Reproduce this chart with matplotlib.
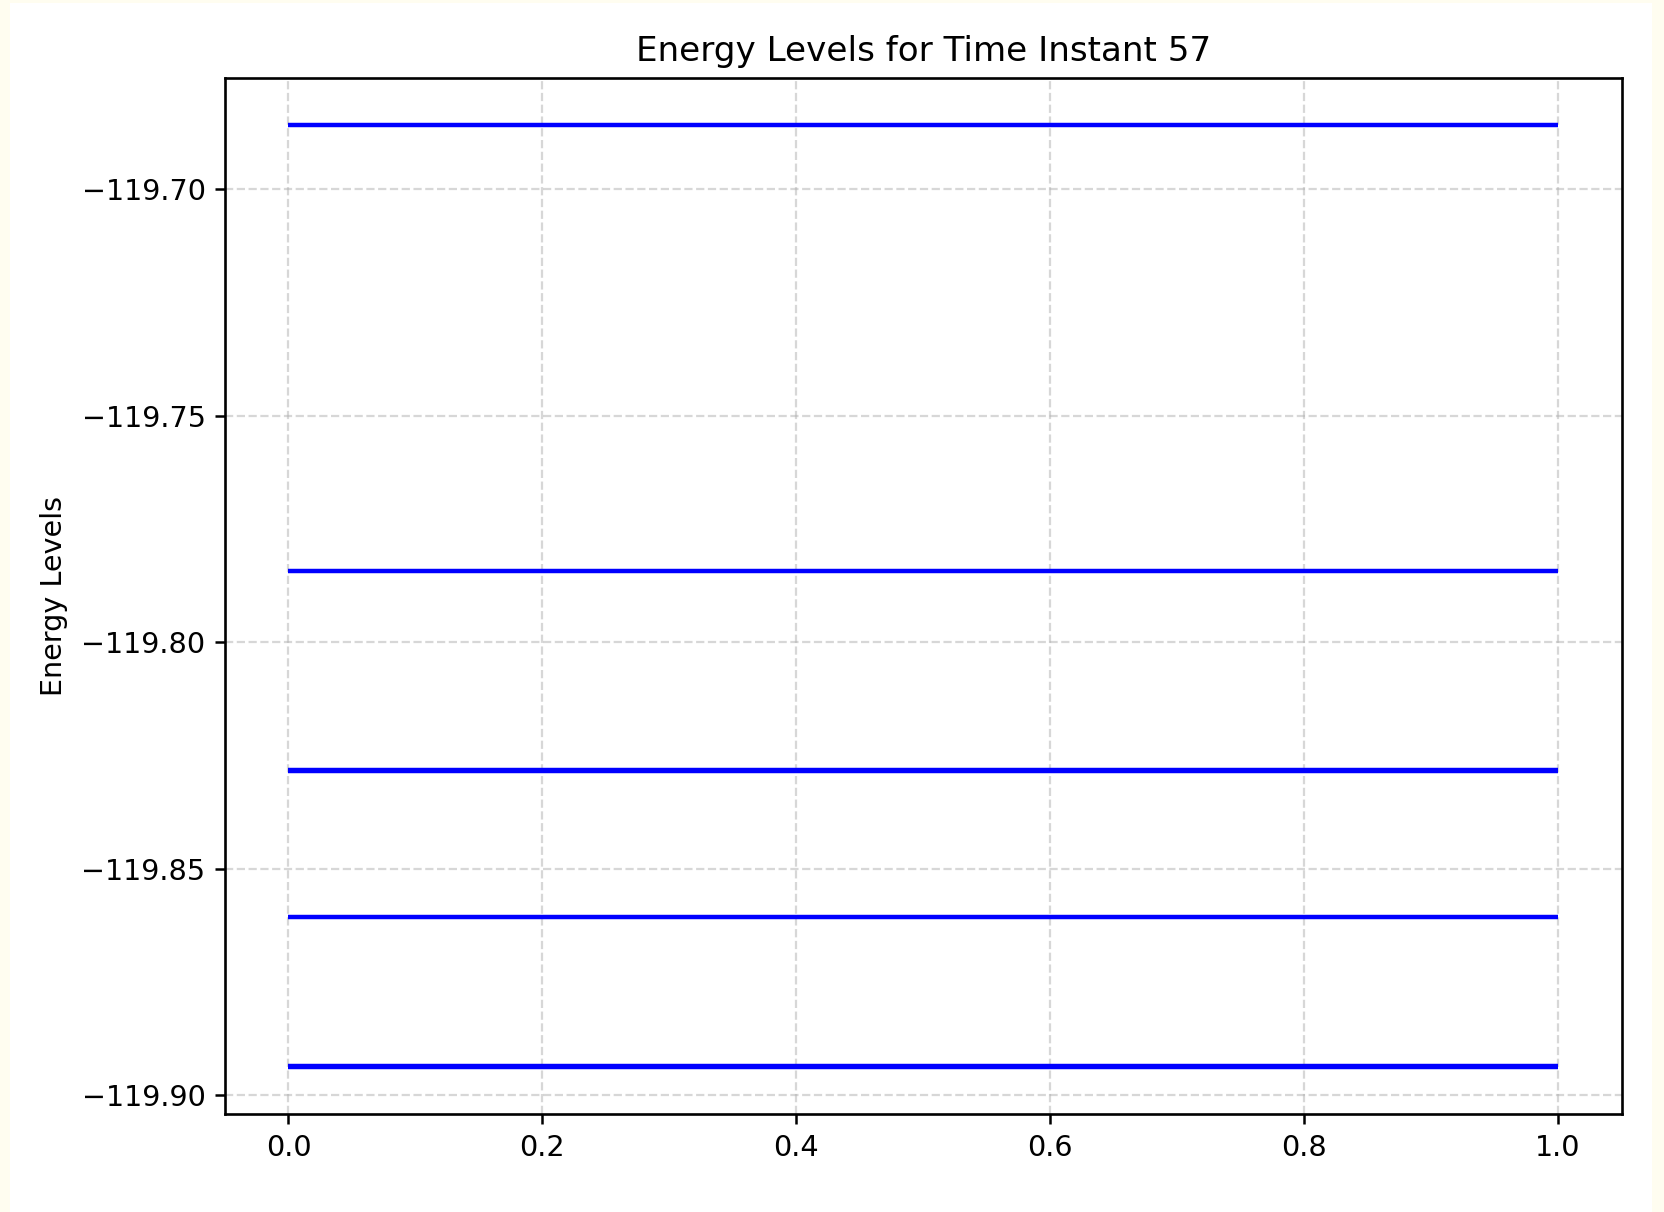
import matplotlib
matplotlib.use('Agg')
import matplotlib.pyplot as plt
from matplotlib.patches import Rectangle

# energy eigenvalues at the selected time step (near-degenerate pairs kept separate)
time_instant = 57
energy_levels = [-119.6858, -119.7843, -119.8283, -119.8285,
                 -119.8607, -119.8936, -119.8938]
x_span = [0.0, 1.0]

fig = plt.figure(figsize=(8.32, 6.06), dpi=200, facecolor='#fffdf0')
# white canvas inside the thin cream frame
fig.patches.append(Rectangle((0.006, 0.0), 0.9868, 0.9975, transform=fig.transFigure,
                             facecolor='white', edgecolor='none', zorder=-1))
ax = fig.add_axes([0.1352, 0.0806, 0.8393, 0.8554])

for level in energy_levels:
    ax.hlines(level, x_span[0], x_span[1], colors='blue', linewidth=1.6)

ax.set_title(f'Energy Levels for Time Instant {time_instant}', fontsize=12.3)
ax.set_ylabel('Energy Levels', fontsize=10.3, labelpad=5)
ax.tick_params(labelsize=10.3, width=0.9)
for spine in ax.spines.values():
    spine.set_linewidth(0.95)
ax.set_xticks([0.0, 0.2, 0.4, 0.6, 0.8, 1.0])
ax.set_yticks([-119.90, -119.85, -119.80, -119.75, -119.70])
ax.grid(True, linestyle='--', alpha=0.5)
ax.margins(x=0.05, y=0.05)

fig.savefig('out.png', dpi=200, facecolor=fig.get_facecolor())
